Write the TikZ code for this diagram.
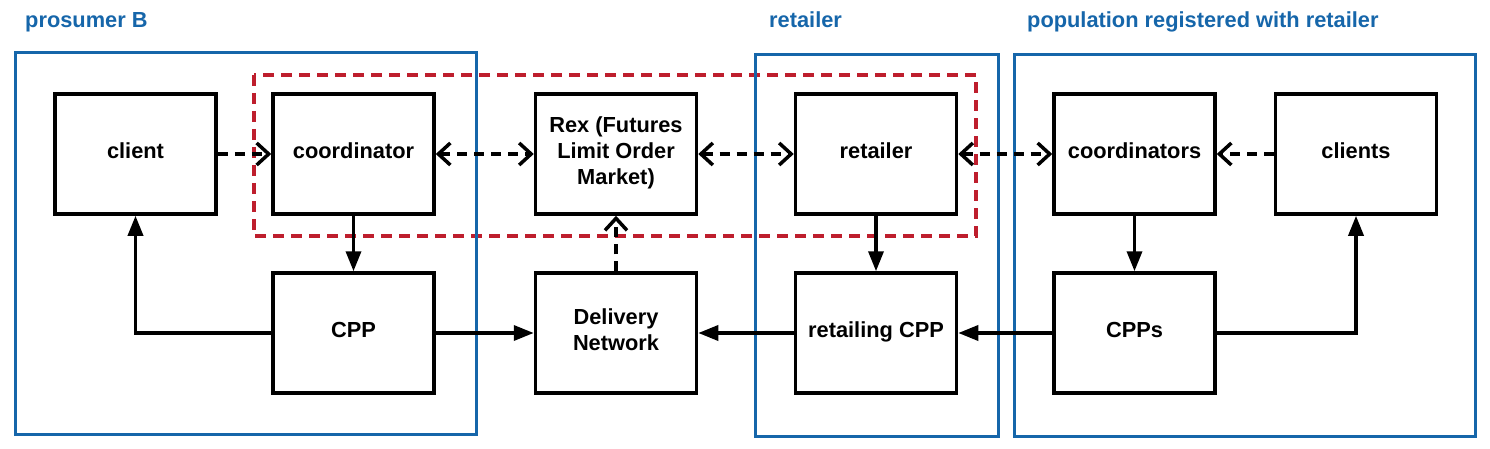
\documentclass[tikz,border=0pt]{standalone}
\usepackage{fontspec}
\setmainfont{Liberation Sans}
\usetikzlibrary{arrows.meta}
\definecolor{blu}{RGB}{22,102,170}
\definecolor{rd}{RGB}{190,30,45}
\begin{document}
\begin{tikzpicture}[x=1pt,y=-1pt,
  box/.style={draw, line width=3.5pt, minimum width=161pt, minimum height=120pt, align=center, inner sep=0pt,
    text depth=6pt, font=\bfseries\fontsize{21.8}{26}\selectfont},
  grp/.style={draw=blu, line width=3pt},
  grplabel/.style={anchor=base west, inner sep=0pt, text=blu, font=\bfseries\fontsize{21.8}{24}\selectfont},
  dsh/.style={line width=3.5pt, dash pattern=on 10pt off 7pt},
  sol/.style={line width=3.5pt, -{Triangle[length=20pt,width=15pt]}},
  opn/.style={-{Straight Barb[length=12pt,width=22pt,line width=3.5pt]}},
  bopn/.style={{Straight Barb[length=12pt,width=22pt,line width=3.5pt]}-{Straight Barb[length=12pt,width=22pt,line width=3.5pt]}},
]
\useasboundingbox (0,0) rectangle (1490,449);
% red dashed region
\draw[rd, line width=3.5pt, dash pattern=on 11pt off 7pt] (254,75) rectangle (976,236);
% blue groups
\draw[grp] (15,53) rectangle (476,434);
\draw[grp] (755,55) rectangle (998,436);
\draw[grp] (1014,55) rectangle (1475,436);
\node[grplabel] (lbA) at (25,28) {prosumer B};
\node[grplabel] (lbB) at (769,28) {retailer};
\node[grplabel] (lbC) at (1027,28) {population registered with retailer};
% boxes
\node[box] (client) at (135.5,154) {client};
\node[box] (coord) at (353.5,154) {coordinator};
\node[box] (rex) at (616,154) {Rex (Futures\\Limit Order\\Market)};
\node[box] (ret) at (876,154) {retailer};
\node[box] (coords) at (1134.5,154) {coordinators};
\node[box] (clients) at (1356,154) {clients};
\node[box] (cpp) at (353.5,333) {CPP};
\node[box] (deliv) at (616,333) {Delivery\\Network};
\node[box] (rcpp) at (876,333) {retailing CPP};
\node[box] (cpps) at (1134.5,333) {CPPs};
% dashed connectors
\draw[dsh, opn] (client.east) -- (coord.west);
\draw[dsh, bopn] (coord.east) -- (rex.west);
\draw[dsh, bopn] (rex.east) -- (ret.west);
\draw[dsh, bopn] (ret.east) -- (coords.west);
\draw[dsh, opn] (clients.west) -- (coords.east);
\draw[dsh, opn] (deliv.north) -- (rex.south);
% solid connectors
\draw[sol] (coord.south) -- (cpp.north);
\draw[sol] (ret.south) -- (rcpp.north);
\draw[sol] (coords.south) -- (cpps.north);
\draw[sol] (cpp.west) -| (client.south);
\draw[sol] (cpp.east) -- (deliv.west);
\draw[sol] (rcpp.west) -- (deliv.east);
\draw[sol] (cpps.west) -- (rcpp.east);
\draw[sol] (cpps.east) -| (clients.south);
\end{tikzpicture}
\end{document}
